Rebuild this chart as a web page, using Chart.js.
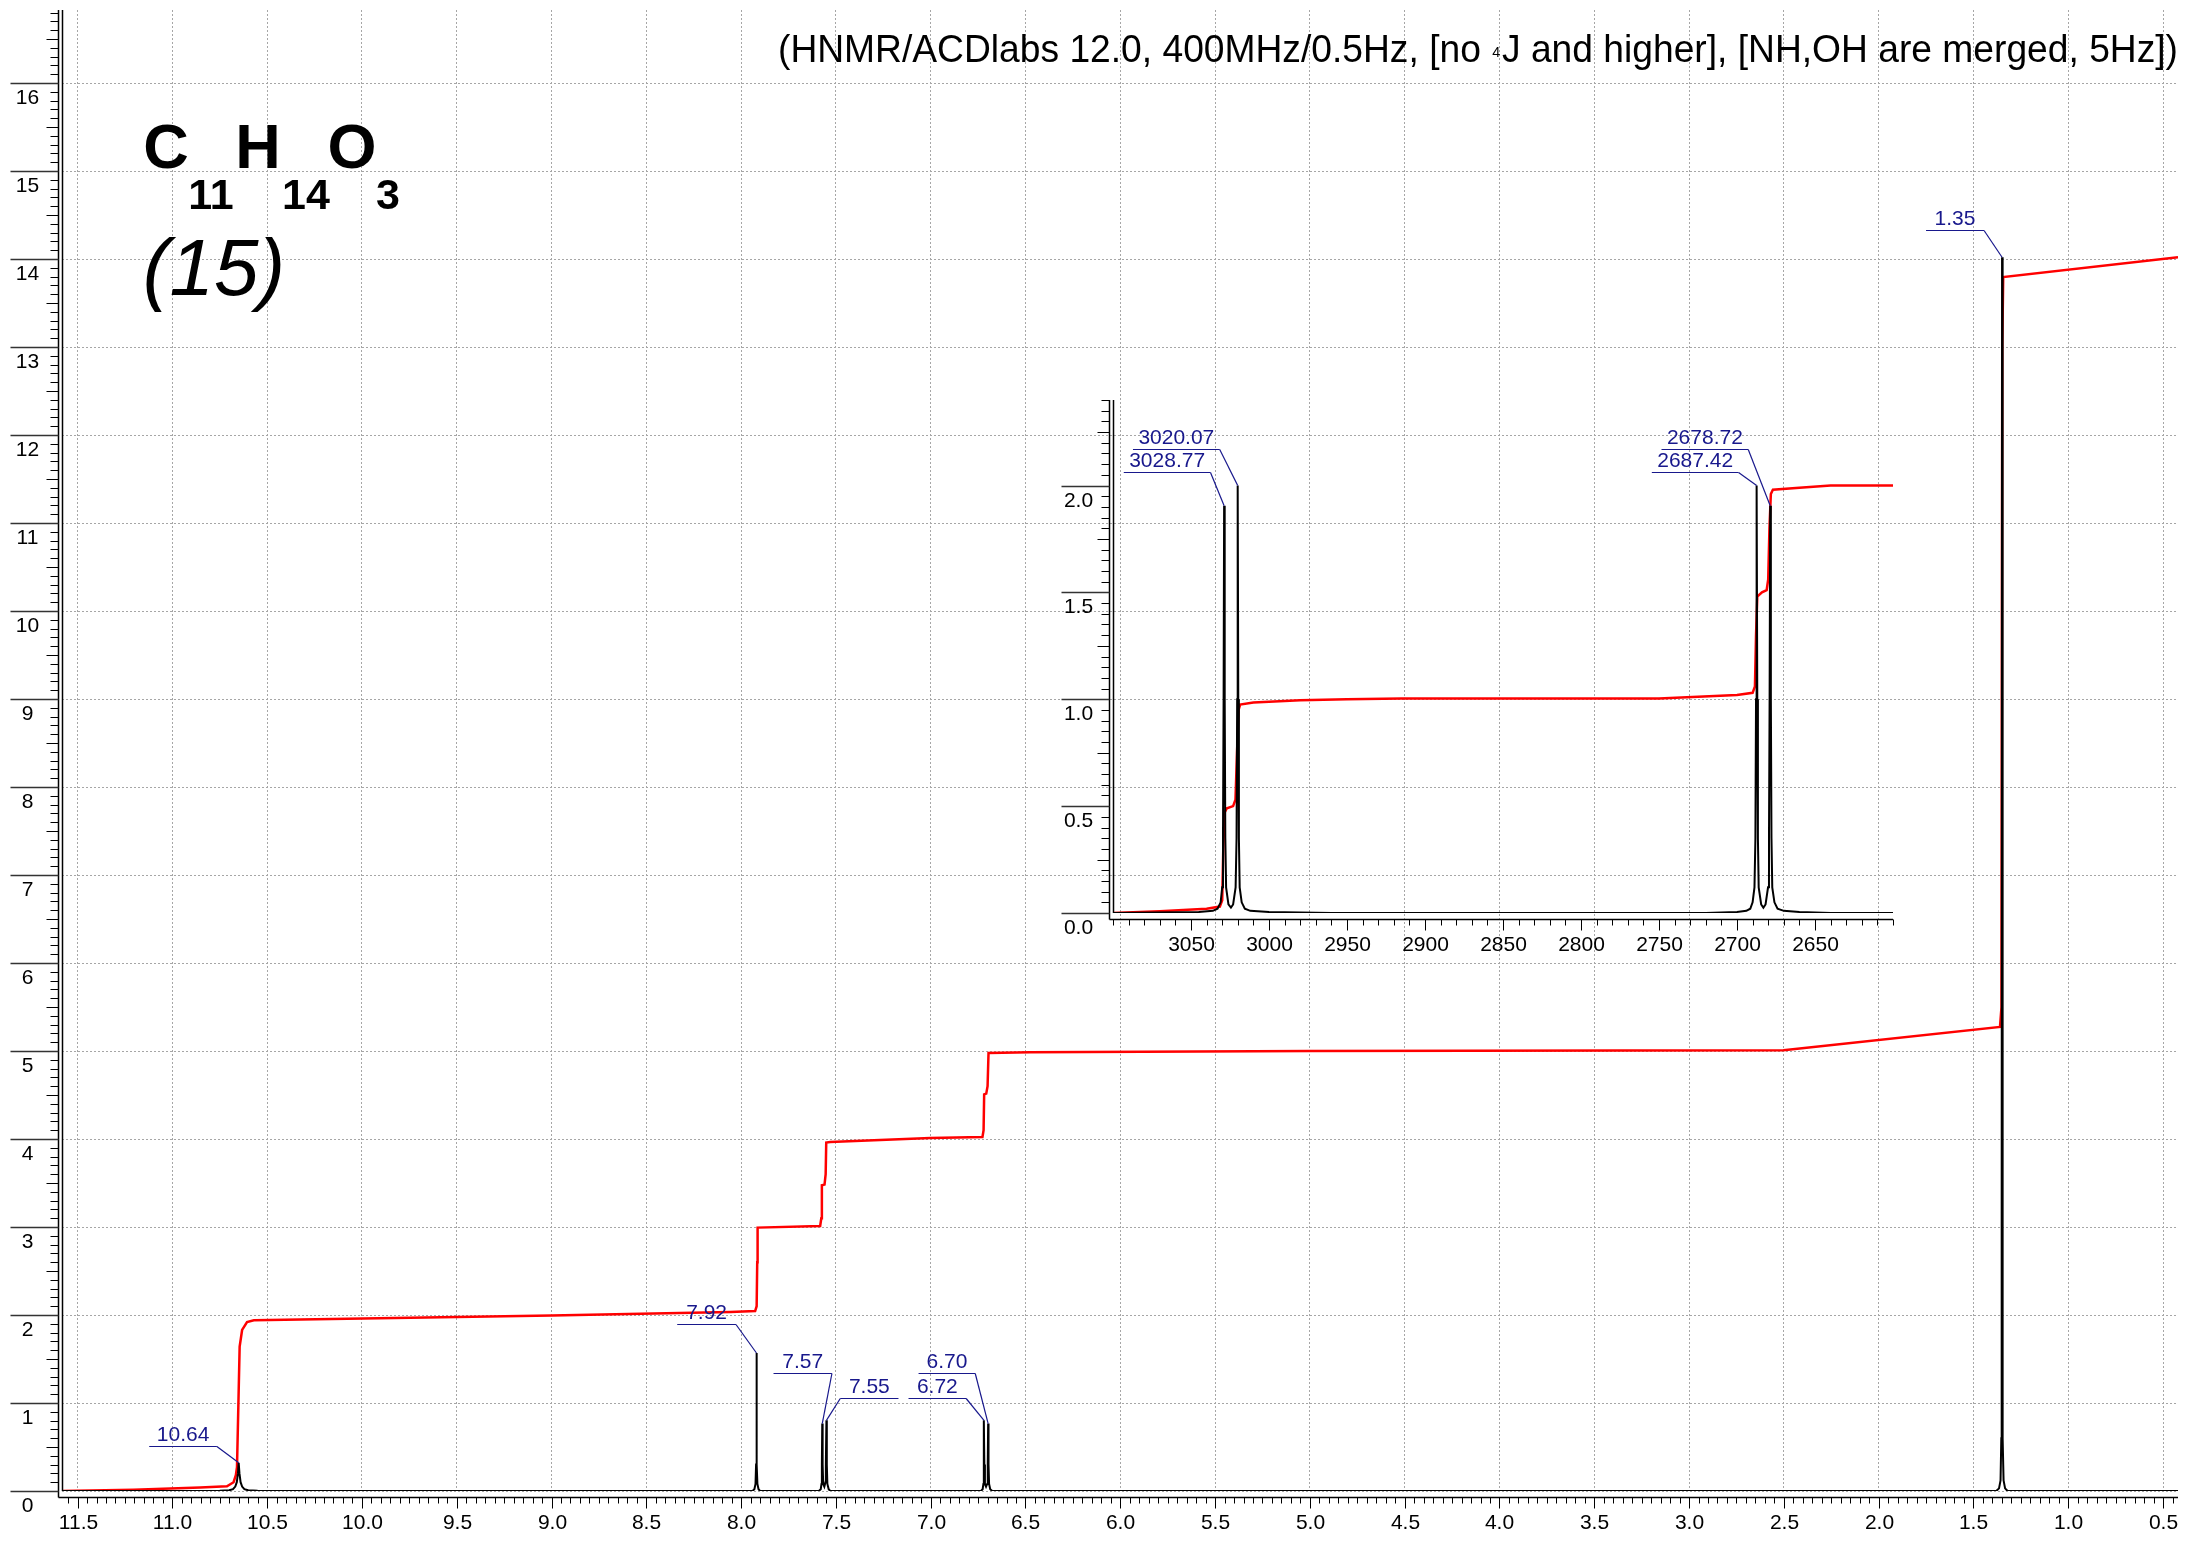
<!DOCTYPE html>
<html>
<head>
<meta charset="utf-8">
<script src="https://cdn.jsdelivr.net/npm/chart.js@4.4.1/dist/chart.umd.min.js"></script>
<style>
  html, body { margin: 0; padding: 0; background: #fff; }
  #wrap { position: relative; width: 2186px; height: 1543px; }
  #wrap canvas { position: absolute; left: 0; top: 0; }
</style>
</head>
<body>
<div id="wrap">
  <canvas id="mainChart" width="2186" height="1543"></canvas>
  <canvas id="insetChart" width="2186" height="1543"></canvas>
</div>
<script>
// ---------- main spectrum (ppm) ----------
const mainSpecPpm = [11.582, 10.75, 10.70, 10.68, 10.668, 10.66, 10.654, 10.65, 10.646, 10.64, 10.632, 10.62, 10.60, 10.55, 10.45,
  7.94, 7.93, 7.924, 7.921, 7.919, 7.917, 7.914, 7.908, 7.90,
  7.59, 7.58, 7.576, 7.574, 7.572, 7.570, 7.567, 7.561, 7.555, 7.553, 7.550, 7.548, 7.545, 7.538, 7.53,
  6.735, 6.726, 6.722, 6.7205, 6.719, 6.717, 6.714, 6.708, 6.702, 6.699, 6.697, 6.695, 6.692, 6.686, 6.675,
  1.38, 1.365, 1.357, 1.353, 1.351, 1.349, 1.347, 1.345, 1.341, 1.333, 1.32, 0.421];
const mainSpecInt = [0, 0.003, 0.008, 0.02, 0.05, 0.1, 0.2, 0.32, 0.2, 0.1, 0.05, 0.02, 0.008, 0.003, 0,
  0, 0.02, 0.08, 0.3, 1.568, 0.3, 0.08, 0.02, 0,
  0, 0.02, 0.08, 0.3, 0.766, 0.3, 0.08, 0.05, 0.1, 0.3, 0.803, 0.3, 0.08, 0.02, 0,
  0, 0.02, 0.08, 0.3, 0.803, 0.3, 0.08, 0.05, 0.08, 0.3, 0.766, 0.3, 0.08, 0.02, 0,
  0, 0.03, 0.12, 0.6, 3, 14.02, 3, 0.6, 0.12, 0.03, 0, 0];

// ---------- main integral curve ----------
const mainIntPpm = [11.582, 11.204, 10.853, 10.712, 10.677, 10.665, 10.659, 10.652, 10.645, 10.632, 10.606, 10.570, 10.325, 9.0,
  8.057, 7.926, 7.918, 7.915, 7.913, 7.583, 7.577, 7.574, 7.560, 7.554, 7.551, 7.530, 7.003,
  6.727, 6.721, 6.718, 6.707, 6.700, 6.695, 6.475, 5.0, 2.502, 1.36, 1.352, 1.348, 1.343, 0.421];
const mainIntVal = [0.0, 0.015, 0.04, 0.053, 0.10, 0.18, 0.27, 0.95, 1.64, 1.83, 1.92, 1.94, 1.95, 1.995,
  2.034, 2.045, 2.1, 2.6, 2.993, 3.011, 3.1, 3.474, 3.482, 3.6, 3.959, 3.966, 4.011,
  4.023, 4.1, 4.508, 4.516, 4.6, 4.977, 4.985, 5.0, 5.008, 5.273, 5.5, 13.0, 13.795, 14.02];

// ---------- main axes ----------
const mainXTicks = [11.5, 11.0, 10.5, 10.0, 9.5, 9.0, 8.5, 8.0, 7.5, 7.0, 6.5, 6.0, 5.5, 5.0, 4.5, 4.0, 3.5, 3.0, 2.5, 2.0, 1.5, 1.0, 0.5];
const mainYTicks = [0, 1, 2, 3, 4, 5, 6, 7, 8, 9, 10, 11, 12, 13, 14, 15, 16];

// ---------- main peak labels ----------
const mainLabelText = ["10.64", "7.92", "7.57", "7.55", "6.70", "6.72", "1.35"];
const mainLabelPeak = [10.65, 7.919, 7.572, 7.550, 6.697, 6.719, 1.349];
const mainLabelTop  = [0.32, 1.568, 0.766, 0.803, 0.766, 0.803, 14.02];
const mainLabelFrom = [11.122, 8.337, 7.829, 7.477, 7.064, 7.117, 1.750];
const mainLabelTo   = [10.765, 8.027, 7.521, 7.170, 6.765, 6.813, 1.444];
const mainLabelY    = [0.508, 1.894, 1.341, 1.061, 1.341, 1.061, 14.334];

// ---------- inset spectrum (Hz) ----------
const insetSpecHz = [3100, 3045, 3036, 3033, 3031, 3030, 3029.5, 3029.1, 3028.77, 3028.4, 3028, 3027.5, 3026, 3024.4,
  3023, 3021.4, 3020.8, 3020.4, 3020.07, 3019.7, 3019.3, 3018.8, 3017.5, 3015.5, 3012, 3000, 2960,
  2720, 2700, 2694, 2691.5, 2690, 2688.8, 2688.2, 2687.8, 2687.42, 2687.0, 2686.6, 2686.1, 2684.5, 2683.1,
  2681.7, 2680.1, 2679.5, 2679.1, 2678.72, 2678.3, 2677.9, 2677.4, 2676, 2674, 2670, 2660, 2640, 2600];
const insetSpecInt = [0, 0.005, 0.01, 0.02, 0.05, 0.12, 0.35, 1.0, 1.905, 1.0, 0.35, 0.12, 0.04, 0.025,
  0.04, 0.12, 0.35, 1.0, 2.0, 1.0, 0.35, 0.12, 0.05, 0.02, 0.01, 0.005, 0,
  0, 0.005, 0.01, 0.02, 0.05, 0.12, 0.35, 1.0, 2.0, 1.0, 0.35, 0.12, 0.04, 0.025,
  0.04, 0.12, 0.35, 1.0, 1.905, 1.0, 0.35, 0.12, 0.05, 0.02, 0.01, 0.005, 0, 0];

// ---------- inset integral ----------
const insetIntHz = [3100, 3070, 3040, 3031.5, 3030, 3029.3, 3028.5, 3027, 3023, 3021.5, 3020.5, 3019.5, 3018.5,
  3010, 2980, 2950, 2915, 2750, 2700, 2690, 2688.5, 2687.8, 2687, 2684, 2681, 2680, 2679.2, 2678.3, 2677,
  2660, 2640, 2600];
const insetIntVal = [0.0, 0.008, 0.02, 0.03, 0.06, 0.3, 0.47, 0.49, 0.5, 0.53, 0.75, 0.95, 0.975,
  0.985, 0.995, 1.0, 1.004, 1.004, 1.02, 1.03, 1.06, 1.3, 1.48, 1.5, 1.51, 1.56, 1.8, 1.96, 1.98,
  1.99, 2.0, 2.0];

// ---------- inset axes ----------
const insetXTicks = [3050, 3000, 2950, 2900, 2850, 2800, 2750, 2700, 2650];
const insetYTicks = [0.0, 0.5, 1.0, 1.5, 2.0];

// ---------- inset peak labels ----------
const insetLabelText = ["3028.77", "3020.07", "2687.42", "2678.72"];
const insetLabelPeak = [3028.77, 3020.07, 2687.42, 2678.72];
const insetLabelTop  = [1.905, 2.0, 2.0, 1.905];
const insetLabelFrom = [3093.1, 3087.2, 2754.6, 2748.4];
const insetLabelTo   = [3037.5, 3031.6, 2699.0, 2692.8];
const insetLabelY    = [2.061, 2.173, 2.061, 2.173];

// =======================
// helpers
// =======================
const FONT = "'Liberation Sans', Arial, sans-serif";
const NAVY = "#18188c";
const pts = (xs, ys) => xs.map((x, i) => ({ x, y: ys[i] }));

function seg(ctx, x1, y1, x2, y2) {
  ctx.beginPath(); ctx.moveTo(x1, y1); ctx.lineTo(x2, y2); ctx.stroke();
}

function drawAxes(chart, o) {
  const { ctx, chartArea: a } = chart;
  const xs = chart.scales.x, ys = chart.scales.y;
  const zeroY = ys.getPixelForValue(0);
  const axX = Math.round(a.left - 4.5) + 0.5;
  const axY = Math.round(zeroY + 5.5) + 0.5;
  ctx.save();
  ctx.strokeStyle = "#000";
  ctx.lineWidth = 1.5;
  seg(ctx, Math.round(a.left) + 0.5, a.top, Math.round(a.left) + 0.5, zeroY);
  seg(ctx, axX, a.top, axX, axY);
  seg(ctx, axX, axY, a.right, axY);

  // y minor ticks
  ctx.lineWidth = 1;
  const nY = Math.floor(ys.max / o.yMinor + 1e-6);
  for (let i = 0; i <= nY; i++) {
    const py = Math.round(ys.getPixelForValue(i * o.yMinor)) + 0.5;
    seg(ctx, axX - (i % 5 === 0 ? 12 : 8), py, axX, py);
  }
  // y major ticks + labels
  ctx.font = `21px ${FONT}`;
  ctx.fillStyle = "#000";
  ctx.textAlign = "center";
  ctx.textBaseline = "middle";
  o.yTicks.forEach(v => {
    const py = Math.round(ys.getPixelForValue(v)) + 0.5;
    ctx.strokeStyle = "#333";
    ctx.lineWidth = 1.3;
    seg(ctx, axX - 48, py, axX, py);
    ctx.fillText(o.yFmt(v), axX - 31, py + 15);
  });

  // x minor ticks
  ctx.strokeStyle = "#000";
  ctx.lineWidth = 1;
  const lo = Math.min(xs.min, xs.max), hi = Math.max(xs.min, xs.max);
  for (let i = Math.ceil(lo / o.xMinor - 1e-6); i * o.xMinor <= hi + 1e-9; i++) {
    const px = Math.round(xs.getPixelForValue(i * o.xMinor)) + 0.5;
    seg(ctx, px, axY, px, axY + 6);
  }
  // x major ticks + labels
  o.xTicks.forEach(v => {
    const px = Math.round(xs.getPixelForValue(v)) + 0.5;
    seg(ctx, px, axY, px, axY + 11);
    ctx.fillText(o.xFmt(v), px, axY + 26);
  });
  ctx.restore();
}

function drawPeakLabels(chart, text, peak, top, from, to, yv) {
  const { ctx } = chart;
  const xs = chart.scales.x, ys = chart.scales.y;
  ctx.save();
  ctx.strokeStyle = NAVY;
  ctx.fillStyle = NAVY;
  ctx.lineWidth = 1.2;
  ctx.font = `21px ${FONT}`;
  ctx.textAlign = "center";
  ctx.textBaseline = "middle";
  text.forEach((t, i) => {
    const x1 = xs.getPixelForValue(from[i]), x2 = xs.getPixelForValue(to[i]);
    const y = Math.round(ys.getPixelForValue(yv[i])) + 0.5;
    const px = xs.getPixelForValue(peak[i]), py = ys.getPixelForValue(top[i]);
    const end = Math.abs(x1 - px) < Math.abs(x2 - px) ? x1 : x2;
    seg(ctx, x1, y, x2, y);
    seg(ctx, end, y, px, py);
    ctx.fillText(t, (x1 + x2) / 2, y - 11);
  });
  ctx.restore();
}

function drawTitle(ctx) {
  const p1 = "(HNMR/ACDlabs 12.0, 400MHz/0.5Hz, [no ";
  const p2 = "J and higher], [NH,OH are merged, 5Hz])";
  ctx.save();
  ctx.font = `39px ${FONT}`;
  const w1 = ctx.measureText(p1).width, w2 = ctx.measureText(p2).width;
  ctx.font = `15px ${FONT}`;
  const w4 = ctx.measureText("4").width + 3;
  const total = w1 + w4 + w2;
  const sx = Math.min(1, 1400 / total);
  ctx.translate(2178 - total * sx, 62);
  ctx.scale(sx, 1);
  ctx.fillStyle = "#000";
  ctx.textAlign = "left";
  ctx.textBaseline = "alphabetic";
  ctx.font = `39px ${FONT}`;
  ctx.fillText(p1, 0, 0);
  ctx.fillText(p2, w1 + w4, 0);
  ctx.font = `15px ${FONT}`;
  ctx.fillText("4", w1 + 1, -5);
  ctx.restore();
}

function drawFormula(ctx) {
  ctx.save();
  ctx.fillStyle = "#000";
  ctx.textAlign = "center";
  ctx.textBaseline = "alphabetic";
  ctx.font = `bold 63px ${FONT}`;
  ctx.fillText("C", 166, 168);
  ctx.fillText("H", 258, 168);
  ctx.fillText("O", 352, 168);
  ctx.font = `bold 43px ${FONT}`;
  ctx.fillText("11", 211, 209);
  ctx.fillText("14", 306, 209);
  ctx.fillText("3", 388, 209);
  ctx.font = `italic 80px ${FONT}`;
  ctx.fillText("(15)", 214, 295);
  ctx.restore();
}

// =======================
// main chart
// =======================
const gridStyle = { color: "#a6a6a6", lineWidth: 1, drawTicks: false };

new Chart(document.getElementById("mainChart"), {
  type: "scatter",
  data: {
    datasets: [
      { data: pts(mainSpecPpm, mainSpecInt), showLine: true, borderColor: "#000", borderWidth: 2, pointRadius: 0, tension: 0 },
      { data: pts(mainIntPpm, mainIntVal), showLine: true, borderColor: "#ff0000", borderWidth: 2.5, pointRadius: 0, tension: 0 }
    ]
  },
  options: {
    responsive: false,
    animation: false,
    devicePixelRatio: 1,
    events: [],
    layout: { padding: { left: 0, top: 10, right: 8, bottom: 0 } },
    plugins: { legend: { display: false }, tooltip: { enabled: false } },
    scales: {
      x: {
        type: "linear", reverse: true, min: 0.421, max: 11.582,
        afterBuildTicks: s => { s.ticks = mainXTicks.map(v => ({ value: v })); },
        afterFit: s => { s.height = 52; },
        ticks: { display: false },
        grid: gridStyle,
        border: { display: false, dash: [2, 2] }
      },
      y: {
        type: "linear", min: 0, max: 16.83,
        afterBuildTicks: s => { s.ticks = mainYTicks.map(v => ({ value: v })); },
        afterFit: s => { s.width = 62; },
        ticks: { display: false },
        grid: gridStyle,
        border: { display: false, dash: [2, 2] }
      }
    }
  },
  plugins: [{
    id: "mainDecor",
    afterDraw(chart) {
      drawAxes(chart, {
        xTicks: mainXTicks, yTicks: mainYTicks, xMinor: 0.05, yMinor: 0.1,
        xFmt: v => v.toFixed(1), yFmt: v => String(v)
      });
      drawPeakLabels(chart, mainLabelText, mainLabelPeak, mainLabelTop, mainLabelFrom, mainLabelTo, mainLabelY);
      drawTitle(chart.ctx);
      drawFormula(chart.ctx);
    }
  }]
});

// =======================
// inset chart (Hz)
// =======================
new Chart(document.getElementById("insetChart"), {
  type: "scatter",
  data: {
    datasets: [
      { data: pts(insetSpecHz, insetSpecInt), showLine: true, borderColor: "#000", borderWidth: 2, pointRadius: 0, tension: 0 },
      { data: pts(insetIntHz, insetIntVal), showLine: true, borderColor: "#ff0000", borderWidth: 2.5, pointRadius: 0, tension: 0 }
    ]
  },
  options: {
    responsive: false,
    animation: false,
    devicePixelRatio: 1,
    events: [],
    layout: { padding: { left: 1113, top: 400, right: 293, bottom: 630 } },
    plugins: { legend: { display: false }, tooltip: { enabled: false } },
    scales: {
      x: { type: "linear", display: false, reverse: true, min: 2600, max: 3100 },
      y: { type: "linear", display: false, min: 0, max: 2.4 }
    }
  },
  plugins: [{
    id: "insetDecor",
    afterDraw(chart) {
      drawAxes(chart, {
        xTicks: insetXTicks, yTicks: insetYTicks, xMinor: 10, yMinor: 0.05,
        xFmt: v => String(v), yFmt: v => v.toFixed(1)
      });
      drawPeakLabels(chart, insetLabelText, insetLabelPeak, insetLabelTop, insetLabelFrom, insetLabelTo, insetLabelY);
    }
  }]
});
</script>
</body>
</html>
